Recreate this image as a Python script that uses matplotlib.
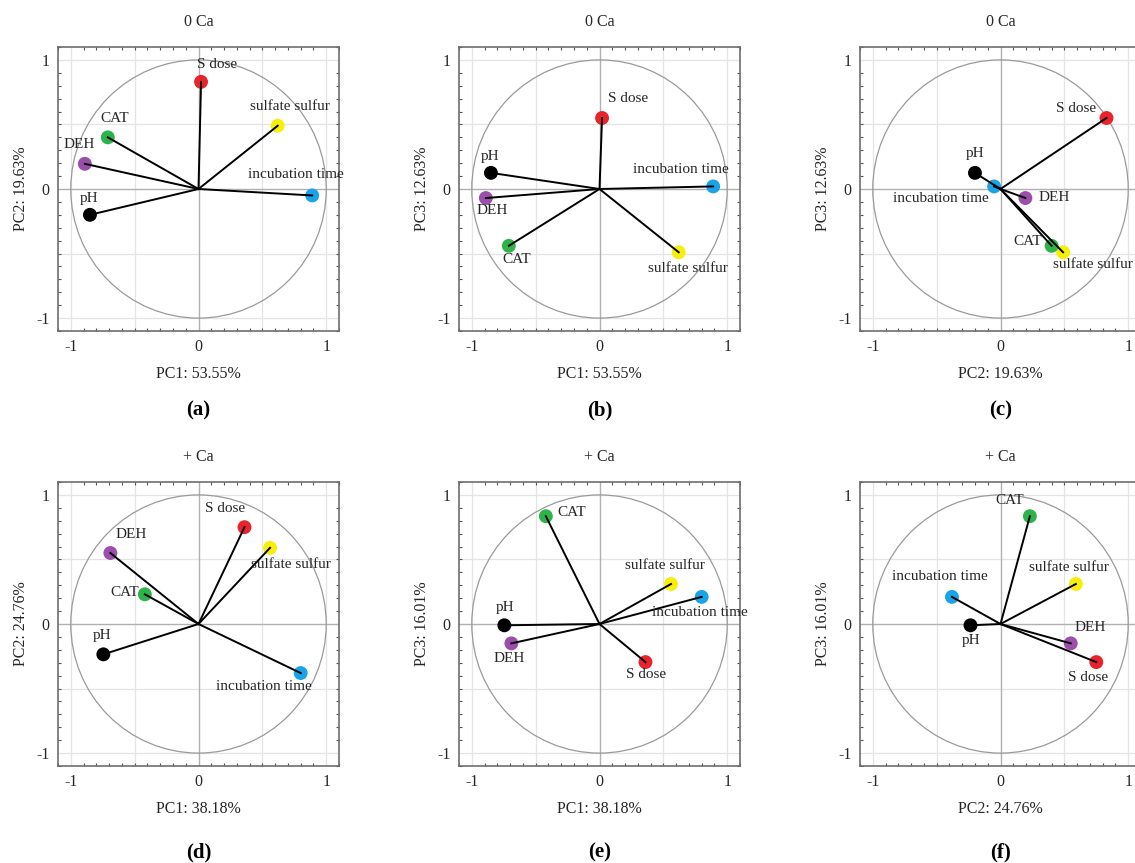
import matplotlib
matplotlib.use("Agg")
import matplotlib.pyplot as plt
import numpy as np
from matplotlib.patches import Circle
from matplotlib.ticker import MultipleLocator

plt.rcParams["font.family"] = "Liberation Serif"
plt.rcParams["axes.unicode_minus"] = False

variables = ["S dose", "sulfate sulfur", "incubation time", "CAT", "DEH", "pH"]
var_colors = ["#e8232b", "#f5ef0a", "#1aa3e6", "#2db34a", "#9b4fab", "#000000"]

# loadings, columns = PC1, PC2, PC3
load_0ca = np.array([
    [0.02, 0.83, 0.55],
    [0.62, 0.49, -0.49],
    [0.89, -0.05, 0.02],
    [-0.71, 0.40, -0.44],
    [-0.89, 0.195, -0.07],
    [-0.85, -0.20, 0.125],
])
load_ca = np.array([
    [0.36, 0.75, -0.295],
    [0.56, 0.59, 0.31],
    [0.80, -0.38, 0.21],
    [-0.42, 0.23, 0.835],
    [-0.69, 0.55, -0.15],
    [-0.745, -0.235, -0.01],
])
var_0ca = [53.55, 19.63, 12.63]
var_ca = [38.18, 24.76, 16.01]

# panel: (title, loadings, variance, pc_x, pc_y, letter)
panels = [
    ("0 Ca", load_0ca, var_0ca, 0, 1, "(a)"),
    ("0 Ca", load_0ca, var_0ca, 0, 2, "(b)"),
    ("0 Ca", load_0ca, var_0ca, 1, 2, "(c)"),
    ("+ Ca", load_ca, var_ca, 0, 1, "(d)"),
    ("+ Ca", load_ca, var_ca, 0, 2, "(e)"),
    ("+ Ca", load_ca, var_ca, 1, 2, "(f)"),
]

# label offsets in pixels (left edge, vertical centre) per panel, per variable
label_offsets = [
    [(-4, 17), (-28, 19), (-64, 21), (-7, 19), (-21, 19), (-10, 16)],
    [(6, 19), (-31, -16), (-80, 17), (-6, -14), (-9, -12), (-10, 16)],
    [(-51, 10), (-10, -12), (-101, -12), (-38, 4), (13, 1), (-9, 19)],
    [(-39, 19), (-19, -17), (-85, -13), (-34, 2), (5, 19), (-11, 19)],
    [(-19, -12), (-46, 18), (-50, -16), (12, 4), (-18, -15), (-9, 18)],
    [(-28, -15), (-47, 16), (-60, 20), (-35, 16), (4, 16), (-9, -15)],
]

W, H = 1135, 863
fig = plt.figure(figsize=(W / 100, H / 100), dpi=100)

lefts = [58, 459, 860]
tops = [47, 482]
aw, ah = 281, 284
text_col = "#262626"

for i, (title, load, var, px, py, letter) in enumerate(panels):
    row, col = divmod(i, 3)
    l, t = lefts[col], tops[row]
    ax = fig.add_axes([l / W, 1 - (t + ah) / H, aw / W, ah / H])
    ax.set_xlim(-1.1, 1.1)
    ax.set_ylim(-1.1, 1.1)

    for v in (-1, -0.5, 0.5, 1):
        ax.axvline(v, color="#e4e4e4", lw=0.9, zorder=0)
        ax.axhline(v, color="#e4e4e4", lw=0.9, zorder=0)
    ax.axvline(0, color="#b0b0b0", lw=1.0, zorder=1)
    ax.axhline(0, color="#b0b0b0", lw=1.0, zorder=1)
    ax.add_patch(Circle((0, 0), 1, fill=False, ec="#9a9a9a", lw=0.9, zorder=1))

    xs, ys = load[:, px], load[:, py]
    ax.scatter(xs, ys, s=100, c=var_colors, zorder=3, linewidths=0)
    for k, name in enumerate(variables):
        ax.plot([0, xs[k]], [0, ys[k]], color="black", lw=1.4, zorder=4)
        dx, dy = label_offsets[i][k]
        ax.annotate(name, (xs[k], ys[k]), xytext=(dx, dy), textcoords="offset pixels",
                    ha="left", va="center", fontsize=11, color=text_col, zorder=5)

    ax.xaxis.set_major_locator(MultipleLocator(1))
    ax.yaxis.set_major_locator(MultipleLocator(1))
    ax.xaxis.set_minor_locator(MultipleLocator(0.1))
    ax.yaxis.set_minor_locator(MultipleLocator(0.1))
    ax.tick_params(which="both", direction="in", top=True, right=True,
                   color="#555555", labelsize=11.5, labelcolor=text_col)
    ax.tick_params(which="major", length=0, pad=6)
    ax.tick_params(which="minor", length=2.5, width=0.8)
    for s in ax.spines.values():
        s.set_color("#6e6e6e")
        s.set_linewidth(1.2)

    ax.set_title(title, fontsize=11.5, color=text_col, pad=15)
    ax.set_xlabel(f"PC{px + 1}: {var[px]:.2f}%", fontsize=11.5, color=text_col, labelpad=8)
    ax.set_ylabel(f"PC{py + 1}: {var[py]:.2f}%", fontsize=11.5, color=text_col, labelpad=5)

    cx = (l + aw / 2) / W
    ly = 410 if row == 0 else 852
    fig.text(cx, 1 - ly / H, letter, ha="center", va="center",
             fontsize=15, fontweight="bold", color="black")

fig.savefig("out.png", dpi=100, facecolor="white")
